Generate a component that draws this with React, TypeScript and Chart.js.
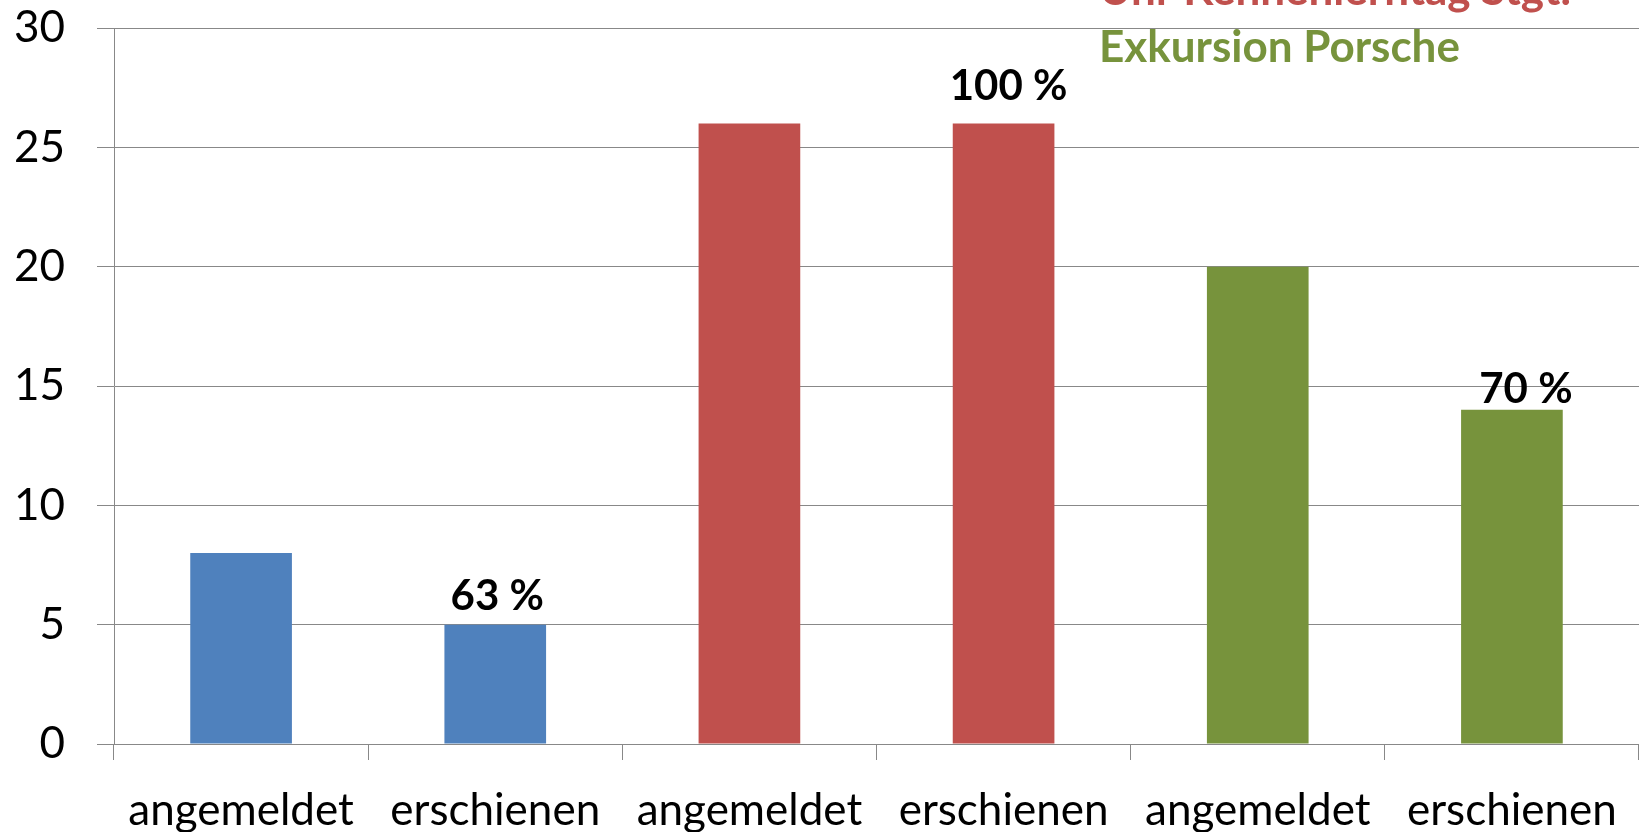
import React, { useEffect, useRef } from "react";
import { Chart, registerables } from "chart.js";

Chart.register(...registerables);

const categories = ["angemeldet", "erschienen", "angemeldet", "erschienen", "angemeldet", "erschienen"];
const values = [8, 5, 26, 26, 20, 14];
const barColors = ["#4F81BD", "#4F81BD", "#C0504D", "#C0504D", "#77933C", "#77933C"];
const yTicks = [0, 5, 10, 15, 20, 25, 30];

const percentIndices = [1, 3, 5];
const percentLabels = ["63 %", "100 %", "70 %"];

const legendTexts = ["Uni-Kennenlerntag Stgt.", "Exkursion Porsche"];
const legendColors = ["#C0504D", "#77933C"];

// style-only offsets for the manually placed data labels (px)
const labelDx = [2, 5, 14];
const labelDy = [15, 23, 7];

const FONT = "Lato";

export default function App() {
  const ref = useRef<HTMLCanvasElement | null>(null);

  useEffect(() => {
    if (!ref.current) return;
    const labelPlugin = {
      id: "pctLabels",
      afterDatasetsDraw(chart: any) {
        const ctx = chart.ctx;
        const meta = chart.getDatasetMeta(0);
        ctx.save();
        ctx.font = `bold 42px ${FONT}`;
        ctx.fillStyle = "#000";
        ctx.textAlign = "center";
        ctx.textBaseline = "alphabetic";
        percentIndices.forEach((idx, i) => {
          const el = meta.data[idx];
          ctx.fillText(percentLabels[i], el.x + labelDx[i], el.y - labelDy[i]);
        });
        ctx.restore();
      },
      afterDraw(chart: any) {
        const ctx = chart.ctx;
        ctx.save();
        ctx.font = `bold 44px ${FONT}`;
        ctx.textAlign = "left";
        ctx.textBaseline = "alphabetic";
        const x0 = 1099;
        const baselines = [5, 62];
        legendTexts.forEach((t, i) => {
          ctx.fillStyle = legendColors[i];
          ctx.fillText(t, x0, baselines[i]);
        });
        ctx.restore();
      },
    };

    const chart = new Chart(ref.current, {
      type: "bar",
      data: {
        labels: categories,
        datasets: [
          {
            data: values,
            backgroundColor: barColors,
            borderWidth: 0,
            barPercentage: 0.4,
            categoryPercentage: 1,
          },
        ],
      },
      options: {
        animation: false,
        responsive: true,
        maintainAspectRatio: false,
        layout: { padding: { top: 28, right: 0, bottom: 0, left: 0 } },
        plugins: { legend: { display: false }, tooltip: { enabled: false } },
        scales: {
          x: {
            offset: true,
            grid: {
              display: true,
              drawOnChartArea: false,
              drawTicks: true,
              tickLength: 16,
              color: "#888888",
              offset: true,
            },
            border: { color: "#888888", width: 1 },
            ticks: {
              font: { family: FONT, size: 44 },
              color: "#000000",
              maxRotation: 0,
              minRotation: 0,
              autoSkip: false,
              padding: 24,
            },
            afterFit: (s: any) => {
              s.height = 88;
              s.paddingLeft = 0;
              s.paddingRight = 0;
            },
          },
          y: {
            min: 0,
            max: 30,
            afterBuildTicks: (s: any) => {
              s.ticks = yTicks.map((v) => ({ value: v }));
            },
            grid: { color: "#888888", tickLength: 17, drawTicks: true },
            border: { color: "#888888", width: 1 },
            ticks: {
              font: { family: FONT, size: 44 },
              color: "#000000",
              padding: 32,
            },
            afterFit: (s: any) => {
              s.width = 114;
              s.paddingTop = 0;
              s.paddingBottom = 0;
            },
          },
        },
      },
      plugins: [labelPlugin],
    });
    return () => chart.destroy();
  }, []);

  return (
    <div style={{ position: "absolute", left: 0, top: 0, width: 1639, height: 832, background: "#fff" }}>
      <canvas ref={ref} />
    </div>
  );
}
